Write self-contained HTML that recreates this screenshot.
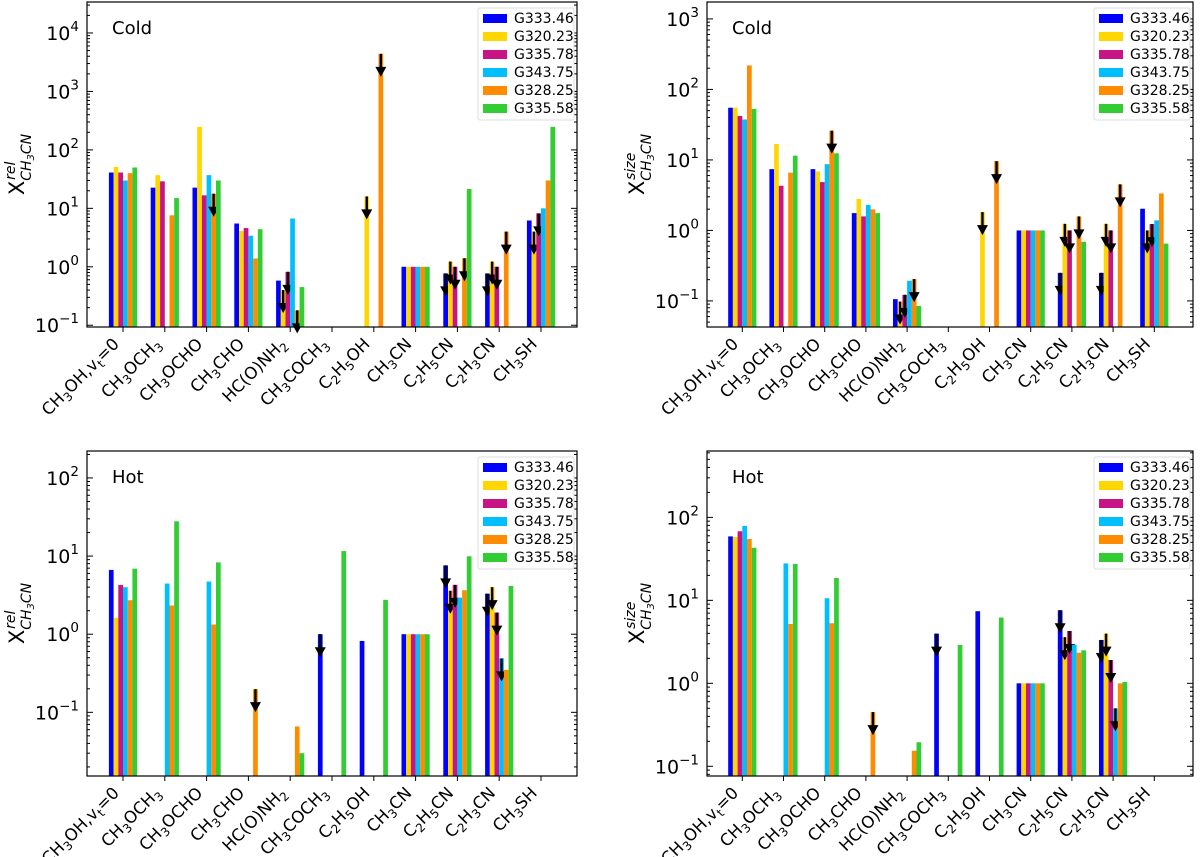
<!DOCTYPE html>
<html><head><meta charset="utf-8">
<style>
html,body{margin:0;padding:0;background:#fff;}
svg{display:block;font-family:"DejaVu Sans","Liberation Sans",sans-serif;}
</style></head>
<body>
<svg id="fig" width="1200" height="857" viewBox="0 0 1200 857" xmlns="http://www.w3.org/2000/svg"></svg>
<script>
const categories = ["CH3OH,vt=0","CH3OCH3","CH3OCHO","CH3CHO","HC(O)NH2","CH3COCH3","C2H5OH","CH3CN","C2H5CN","C2H3CN","CH3SH"];
const sources = ["G333.46","G320.23","G335.78","G343.75","G328.25","G335.58"];

// Cold, relative
const coldRel_G33346 = [41,22.6,22.6,5.5,0.58,null,null,1,0.77,0.77,6.2];
const coldRel_G32023 = [51,37,248,4.1,0.4,null,16,1,1.23,1.23,4.0];
const coldRel_G33578 = [41,29,16.7,4.6,0.82,null,null,1,1.0,1.0,8.2];
const coldRel_G34375 = [30,null,37,3.4,6.7,null,null,1,null,null,10];
const coldRel_G32825 = [40,7.6,17.8,1.39,0.18,null,4400,1,1.4,4.0,30];
const coldRel_G33558 = [50,15,30,4.4,0.45,null,null,1,21.4,null,248];
// Cold, size
const coldSize_G33346 = [55,7.4,7.4,1.76,0.106,null,null,1,0.25,0.25,2.03];
const coldSize_G32023 = [55,16.8,6.9,2.8,0.098,null,1.82,1,1.24,1.24,1.0];
const coldSize_G33578 = [42,4.3,4.85,1.58,0.122,null,null,1,1.0,1.0,1.23];
const coldSize_G34375 = [37.5,null,8.7,2.3,0.193,null,null,1,null,null,1.39];
const coldSize_G32825 = [219,6.6,26,1.99,0.204,null,9.6,1,1.58,4.5,3.35];
const coldSize_G33558 = [53,11.5,12.4,1.76,0.085,null,null,1,0.69,null,0.65];
// Cold upper limits (category indices)
const coldUL_G33346 = [8,9];
const coldUL_G32023 = [4,6,8,9,10];
const coldUL_G33578 = [4,8,9,10];
const coldUL_G34375 = [];
const coldUL_G32825 = [2,4,6,8,9];
const coldUL_G33558 = [];
// Hot, relative
const hotRel_G33346 = [6.65,null,null,null,null,1.0,0.82,1,7.6,3.3,null];
const hotRel_G32023 = [1.62,null,null,null,null,null,null,1,3.6,4.0,null];
const hotRel_G33578 = [4.28,null,null,null,null,null,null,1,4.28,1.89,null];
const hotRel_G34375 = [4.0,4.45,4.72,null,null,null,null,1,2.94,0.49,null];
const hotRel_G32825 = [2.72,2.33,1.33,0.198,0.066,null,null,1,3.65,0.35,null];
const hotRel_G33558 = [6.9,27.9,8.3,null,0.030,11.6,2.75,1,9.95,4.15,null];
// Hot, size
const hotSize_G33346 = [59,null,null,null,null,3.97,7.4,1,7.6,3.33,null];
const hotSize_G32023 = [58,null,null,null,null,null,null,1,3.6,3.97,null];
const hotSize_G33578 = [68,null,null,null,null,null,null,1,4.27,1.91,null];
const hotSize_G34375 = [79,27.9,10.6,null,null,null,null,1,2.92,0.5,null];
const hotSize_G32825 = [55,5.2,5.3,0.45,0.154,null,null,1,2.34,1.0,null];
const hotSize_G33558 = [43,27.4,18.6,null,0.195,2.9,6.2,1,2.5,1.04,null];
// Hot upper limits
const hotUL_G33346 = [5,8,9];
const hotUL_G32023 = [8,9];
const hotUL_G33578 = [8,9];
const hotUL_G34375 = [9];
const hotUL_G32825 = [3];
const hotUL_G33558 = [];

const colors = ["#0000ff","#ffd700","#c71585","#00bfff","#ff8c00","#32cd32"];
const NS = "http://www.w3.org/2000/svg";
const svg = document.getElementById('fig');
function mk(tag, attrs, parent){ const e=document.createElementNS(NS,tag); for(const k in attrs) e.setAttribute(k,attrs[k]); (parent||svg).appendChild(e); return e; }

const catLabels = [
 [["CH",0],["3",1],["OH,v",0],["t",1],["=0",0]],
 [["CH",0],["3",1],["OCH",0],["3",1]],
 [["CH",0],["3",1],["OCHO",0]],
 [["CH",0],["3",1],["CHO",0]],
 [["HC(O)NH",0],["2",1]],
 [["CH",0],["3",1],["COCH",0],["3",1]],
 [["C",0],["2",1],["H",0],["5",1],["OH",0]],
 [["CH",0],["3",1],["CN",0]],
 [["C",0],["2",1],["H",0],["5",1],["CN",0]],
 [["C",0],["2",1],["H",0],["3",1],["CN",0]],
 [["CH",0],["3",1],["SH",0]]
];

function panel(cfg){
  const g = mk('g',{});
  
  
  const L=cfg.L,R=cfg.R,T=cfg.T,B=cfg.B;
  const yS = v => B - (Math.log10(v)-cfg.lmin)/(cfg.lmax-cfg.lmin)*(B-T);
  const xS = i => cfg.x0 + i*cfg.dx;
  const bw = 4.7;
  for(let s=0;s<6;s++){
    const vals = cfg.series[s], ul = cfg.uls[s];
    for(let i=0;i<vals.length;i++){
      const v = vals[i]; if(v===null) continue;
      const xc = xS(i) + (s-2.5)*bw;
      const y = Math.max(T, yS(v));
      const r = mk('rect',{x:(xc-bw/2).toFixed(2),y:y.toFixed(2),width:bw,height:(B-y).toFixed(2),fill:colors[s]},g);
      
      
      if(ul.indexOf(i)>=0){
        const a = mk('g',{},g);
        
        
        mk('line',{x1:xc,y1:y,x2:xc,y2:y+16,stroke:'#000','stroke-width':2.4},a);
        mk('path',{d:`M${xc-5.5},${y+13} L${xc+5.5},${y+13} L${xc},${y+23} Z`,fill:'#000'},a);
      }
    }
  }
  const fr = mk('rect',{x:L,y:T,width:R-L,height:B-T,fill:'none',stroke:'#000','stroke-width':1.2},g);
  
  
  for(let d=Math.floor(cfg.lmin); d<=Math.ceil(cfg.lmax); d++){
    for(let m=1;m<10;m++){
      const lv = d+Math.log10(m);
      if(lv<cfg.lmin||lv>cfg.lmax) continue;
      const y=yS(Math.pow(10,lv)); const len = m===1?6:3;
      mk('line',{x1:L,y1:y,x2:L+len,y2:y,stroke:'#000','stroke-width':1},g);
      mk('line',{x1:R,y1:y,x2:R-len,y2:y,stroke:'#000','stroke-width':1},g);
      if(m===1){
        const t = mk('text',{x:L-8,y:y+7,'text-anchor':'end','font-size':19},g);
        
        
        t.appendChild(document.createTextNode('10'));
        const sp = mk('tspan',{dy:-9,'font-size':13.5},t); sp.textContent = d<0?('\u2212'+(-d)):String(d);
      }
    }
  }
  for(let i=0;i<categories.length;i++){
    const x=xS(i);
    mk('line',{x1:x,y1:B,x2:x,y2:B+5,stroke:'#000','stroke-width':1},g);
    const tx=x-3, ty=B+18;
    const t = mk('text',{x:tx,y:ty,'text-anchor':'end','font-size':16.5,transform:`rotate(-45 ${tx} ${ty})`},g);
    
    
    let sub=false;
    for(const [s,isSub] of catLabels[i]){
      const sp = mk('tspan',{},t);
      if(isSub && !sub){ sp.setAttribute('dy',4); sp.setAttribute('font-size',12); sub=true; }
      else if(isSub){ sp.setAttribute('font-size',12); }
      else if(!isSub && sub){ sp.setAttribute('dy',-4); sub=false; }
      sp.textContent=s;
    }
  }
  const pl = mk('text',{x:L+25,y:T+32,'font-size':18},g);
  
  
  pl.textContent = cfg.label;
  const yc = (T+B)/2;
  const yt = mk('text',{x:cfg.ylx,y:yc,'text-anchor':'middle','font-size':21,transform:`rotate(-90 ${cfg.ylx} ${yc})`},g);
  
  
  yt.appendChild(document.createTextNode('X'));
  const s1 = mk('tspan',{dy:7,'font-size':14,'font-style':'italic'},yt); s1.textContent='CH';
  const s2 = mk('tspan',{dy:3,'font-size':10,'font-style':'italic'},yt); s2.textContent='3';
  const s3 = mk('tspan',{dy:-3,'font-size':14,'font-style':'italic'},yt); s3.textContent='CN';
  const s4 = mk('tspan',{dx:-46,dy:-16,'font-size':14,'font-style':'italic'},yt); s4.textContent=cfg.sup;
  const lg = mk('g',{},g);
  
  
  const lx = R-99, ly=T+6;
  mk('rect',{x:lx,y:ly,width:96,height:112,fill:'#fff',stroke:'#ddd','stroke-width':1,rx:2},lg);
  for(let s=0;s<6;s++){
    const e = mk('g',{},lg);
    
    
    const yy = ly+10+s*18;
    mk('rect',{x:lx+5,y:yy-4,width:24,height:9,fill:colors[s]},e);
    const t = mk('text',{x:lx+36,y:yy+5,'font-size':14},e); t.textContent=sources[s];
  }
}

panel({name:'panel-cold-rel',L:87,R:577,T:2,B:327,lmin:-1.03,lmax:4.53,x0:123,dx:41.8,label:'Cold',sup:'rel',ylx:24,
  series:[coldRel_G33346,coldRel_G32023,coldRel_G33578,coldRel_G34375,coldRel_G32825,coldRel_G33558],
  uls:[coldUL_G33346,coldUL_G32023,coldUL_G33578,coldUL_G34375,coldUL_G32825,coldUL_G33558]});
panel({name:'panel-cold-size',L:707,R:1193,T:2,B:327,lmin:-1.37,lmax:3.24,x0:742.3,dx:41.2,label:'Cold',sup:'size',ylx:644,
  series:[coldSize_G33346,coldSize_G32023,coldSize_G33578,coldSize_G34375,coldSize_G32825,coldSize_G33558],
  uls:[coldUL_G33346,coldUL_G32023,coldUL_G33578,coldUL_G34375,coldUL_G32825,coldUL_G33558]});
panel({name:'panel-hot-rel',L:87,R:577,T:451,B:776,lmin:-1.815,lmax:2.345,x0:123,dx:41.8,label:'Hot',sup:'rel',ylx:24,
  series:[hotRel_G33346,hotRel_G32023,hotRel_G33578,hotRel_G34375,hotRel_G32825,hotRel_G33558],
  uls:[hotUL_G33346,hotUL_G32023,hotUL_G33578,hotUL_G34375,hotUL_G32825,hotUL_G33558]});
panel({name:'panel-hot-size',L:707,R:1193,T:451,B:776,lmin:-1.117,lmax:2.80,x0:742.3,dx:41.2,label:'Hot',sup:'size',ylx:644,
  series:[hotSize_G33346,hotSize_G32023,hotSize_G33578,hotSize_G34375,hotSize_G32825,hotSize_G33558],
  uls:[hotUL_G33346,hotUL_G32023,hotUL_G33578,hotUL_G34375,hotUL_G32825,hotUL_G33558]});
</script>
</body></html>
